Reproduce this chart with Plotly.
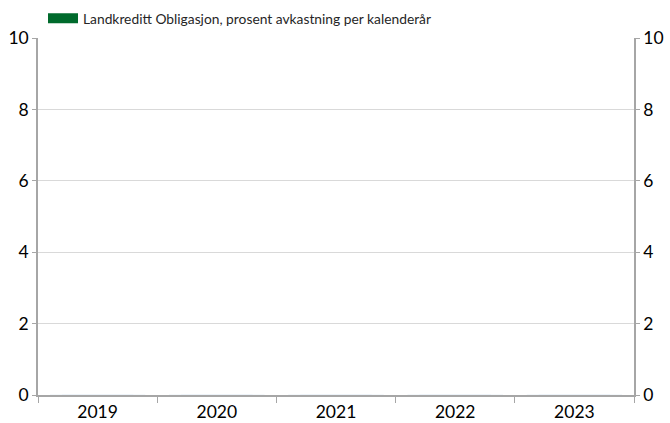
import plotly.graph_objects as go

years = ["2019", "2020", "2021", "2022", "2023"]
returns = [0, 0, 0, 0, 0]
series_name = "Landkreditt Obligasjon, prosent avkastning per kalenderår"
y_ticks = [0, 2, 4, 6, 8, 10]
bar_color = "#006a2c"

fig = go.Figure()
fig.add_trace(go.Bar(x=years, y=returns, name=series_name, marker_color=bar_color, width=0.6,
                     legendgroup="s", showlegend=False))
# legend swatch (wide rectangle, as in the reference)
fig.add_trace(go.Scatter(x=[None], y=[None], mode="lines", name=series_name,
                         line=dict(color=bar_color, width=10), legendgroup="s", showlegend=True))
fig.add_trace(go.Bar(x=years, y=returns, yaxis="y2", showlegend=False, hoverinfo="skip",
                     marker_color="rgba(0,0,0,0)"))

axis_font = dict(family="Lato, Carlito, sans-serif", size=17.5, color="#000000")
fig.update_layout(
    width=670, height=423,
    margin=dict(l=38, r=36, t=38, b=28, autoexpand=False),
    paper_bgcolor="white", plot_bgcolor="white",
    barmode="overlay",
    showlegend=True,
    legend=dict(orientation="h", x=0.0084, y=1.012, xanchor="left", yanchor="bottom",
                font=dict(family="Lato, sans-serif", size=13.8, color="#262626"),
                itemwidth=30),
    xaxis=dict(type="category", categoryarray=years, tickfont=axis_font, automargin=False,
               showline=True, linecolor="#a6a6a6", linewidth=1.5,
               ticks="outside", tickson="boundaries", ticklen=6, tickcolor="#a6a6a6",
               showgrid=False),
    yaxis=dict(range=[0, 10], tickvals=y_ticks, tickfont=axis_font, automargin=False,
               showline=True, linecolor="#a6a6a6", linewidth=1.5,
               ticks="outside", ticklen=4, tickcolor="#a6a6a6",
               gridcolor="#d9d9d9", gridwidth=1, zeroline=False),
    yaxis2=dict(range=[0, 10], tickvals=y_ticks, tickfont=axis_font, overlaying="y", side="right",
                automargin=False,
                showline=True, linecolor="#a6a6a6", linewidth=1.5,
                ticks="outside", ticklen=4, tickcolor="#a6a6a6",
                showgrid=False, zeroline=False),
)
fig.write_html("out.html", config={"displayModeBar": False},
               post_script="document.body.style.margin='0';document.body.style.overflow='hidden';")
